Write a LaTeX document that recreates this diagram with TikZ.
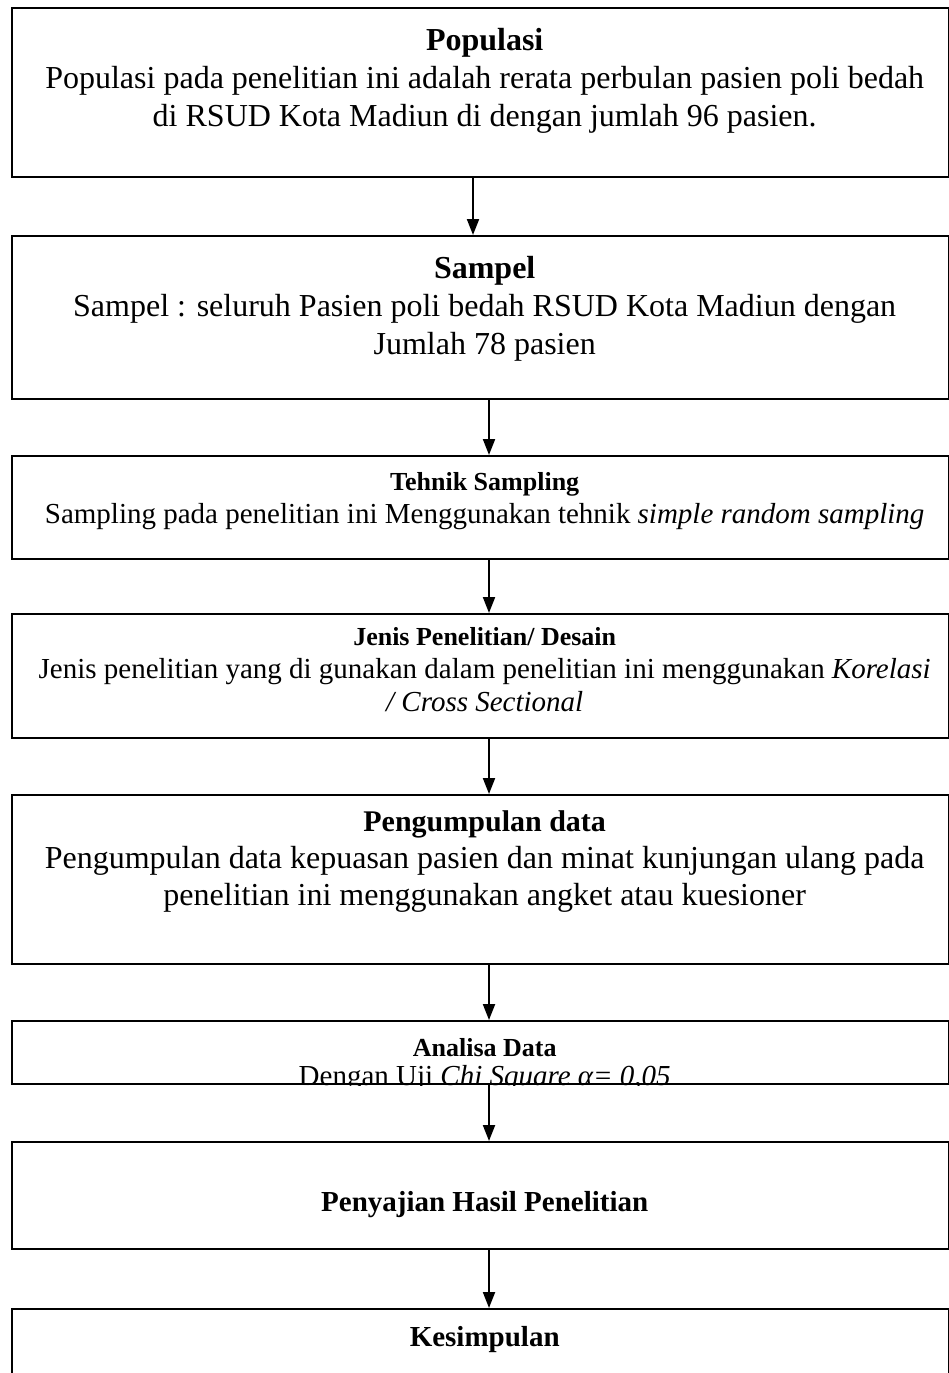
\documentclass[tikz,border=0pt]{standalone}
\usepackage{fontspec}
\setmainfont{Liberation Serif}
\usetikzlibrary{arrows.meta,positioning}

\tikzset{
  kasten/.style={draw, line width=2.4pt, minimum width=937pt, inner sep=0pt, anchor=north west},
  gross/.style={align=center, inner sep=0pt, xshift=4pt, font=\fontsize{32}{38}\selectfont},
  klein/.style={align=center, inner sep=0pt, xshift=4pt, font=\fontsize{29}{33}\selectfont},
  pfeil/.style={line width=2pt, -{Triangle[length=16pt,width=12pt]}}
}
\newcommand{\kleintitel}[1]{{\bfseries\fontsize{26}{33}\selectfont #1}}

\begin{document}
\begin{tikzpicture}[x=1pt,y=-1pt]
\useasboundingbox (0,0) rectangle (949,1373);
%Kaesten
\node[kasten, minimum height=169pt] (pop) at (11,7) {};
\node[kasten, minimum height=163pt] (sam) at (11,235) {};
\node[kasten, minimum height=103pt] (tek) at (11,455) {};
\node[kasten, minimum height=124pt] (jen) at (11,613) {};
\node[kasten, minimum height=169pt] (pen) at (11,794) {};
\node[kasten, minimum height=63pt] (ana) at (11,1020) {};
\node[kasten, minimum height=107pt] (saj) at (11,1141) {};
\node[kasten, minimum height=120pt] (kes) at (11,1308) {};
%Texte
\node[gross, below=21pt of pop.north] (popT) {\textbf{Populasi}\\
  Populasi pada penelitian ini adalah rerata perbulan pasien poli bedah\\
  di RSUD Kota Madiun di dengan jumlah 96 pasien.};
\node[gross, below=21pt of sam.north] (samT) {\textbf{Sampel}\\
  Sampel : seluruh Pasien poli bedah RSUD Kota Madiun dengan\\
  Jumlah 78 pasien};
\node[klein, below=17pt of tek.north] (tekT) {\kleintitel{Tehnik Sampling}\\
  Sampling pada penelitian ini Menggunakan tehnik \textit{simple random sampling}};
\node[klein, below=14pt of jen.north] (jenT) {\kleintitel{Jenis Penelitian/ Desain}\\
  Jenis penelitian yang di gunakan dalam penelitian ini menggunakan \textit{Korelasi}\\
  \textit{/ Cross Sectional}};
\node[gross, below=16pt of pen.north, font=\fontsize{32}{37}\selectfont] (penT) {{\bfseries\fontsize{30}{37}\selectfont Pengumpulan data}\\
  Pengumpulan data kepuasan pasien dan minat kunjungan ulang pada\\
  penelitian ini menggunakan angket atau kuesioner};
\begin{scope}
  \clip (ana.north west) rectangle (ana.south east);
  \node[klein, below=18pt of ana.north, font=\fontsize{29}{29}\selectfont] (anaT) {\kleintitel{Analisa Data}\\
    Dengan Uji \textit{Chi Square α= 0,05}};
\end{scope}
\node[klein, below=50pt of saj.north] (sajT) {\textbf{Penyajian Hasil Penelitian}};
\node[klein, below=18pt of kes.north] (kesT) {\textbf{Kesimpulan}};
%Pfeile
\coordinate (p1) at (473,0);
\coordinate (p2) at (489,0);
\draw[pfeil] (pop.south -| p1) -- (sam.north -| p1);
\draw[pfeil] (sam.south -| p2) -- (tek.north -| p2);
\draw[pfeil] (tek.south -| p2) -- (jen.north -| p2);
\draw[pfeil] (jen.south -| p2) -- (pen.north -| p2);
\draw[pfeil] (pen.south -| p2) -- (ana.north -| p2);
\draw[pfeil] (ana.south -| p2) -- (saj.north -| p2);
\draw[pfeil] (saj.south -| p2) -- (kes.north -| p2);
\end{tikzpicture}
\end{document}
